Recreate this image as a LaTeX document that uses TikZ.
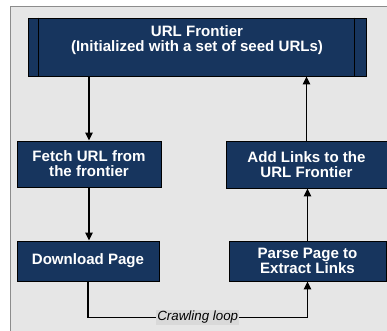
\documentclass[tikz,border=0pt]{standalone}
\usepackage{fontspec}
\setmainfont{Liberation Sans}
\usetikzlibrary{arrows.meta}
\definecolor{navy}{HTML}{17355E}
\definecolor{panel}{HTML}{E6E6E6}
\definecolor{panelline}{HTML}{8C8C8C}
\definecolor{lblbg}{HTML}{D9D9D9}
\begin{document}
\begin{tikzpicture}[x=0.75pt,y=-0.75pt,
  box/.style={draw=black, line width=0.7pt, fill=navy, inner sep=0pt,
    text=white, font=\bfseries\fontsize{11.3}{11.4}\selectfont, align=center},
  conn/.style={line width=1.4pt, -{Triangle[width=5.5pt,length=6pt]}},
  looplbl/.style={fill=lblbg, inner sep=1pt, font=\itshape\fontsize{10}{12}\selectfont}]
\useasboundingbox (0,0) rectangle (387,331);
\fill[white] (0,0) rectangle (387,331);
\draw[fill=panel, draw=panelline, line width=1.4pt] (10.5,6.5) rectangle (400,345);

\node[box, minimum width=253.5pt, minimum height=43.5pt] (top) at (197,47) {};
\draw[line width=0.7pt] ([xshift=8.25pt]top.north west) -- ([xshift=8.25pt]top.south west);
\draw[line width=0.7pt] ([xshift=-9pt]top.north east) -- ([xshift=-9pt]top.south east);
\node[text=white, font=\bfseries\fontsize{11.3}{11.4}\selectfont, align=center] (toptext) at (197,40)
  {URL Frontier\\(Initialized with a set of seed URLs)};

\node[box, minimum width=108pt, minimum height=34.5pt] (fetch) at (89,164) {Fetch URL from\\the frontier};
\node[box, minimum width=106.5pt, minimum height=30pt] (down) at (88,261) {Download Page};
\node[box, minimum width=120.75pt, minimum height=35.25pt] (add) at (306.5,164.5) {Add Links to the\\URL Frontier};
\node[box, minimum width=117.75pt, minimum height=30pt] (parse) at (307.5,261) {Parse Page to\\Extract Links};

\draw[conn] (top.south -| fetch.north) -- (fetch.north);
\draw[conn] (fetch.south) -- (fetch.south |- down.north);
\coordinate (lp) at ([yshift=-27pt]down.south);
\draw[conn] (down.south) -- (lp) -| node[pos=0.25, looplbl] {Crawling loop} (parse.south);
\draw[conn] (parse.north) -- (parse.north |- add.south);
\draw[conn] (add.north) -- (add.north |- top.south);
\end{tikzpicture}
\end{document}
